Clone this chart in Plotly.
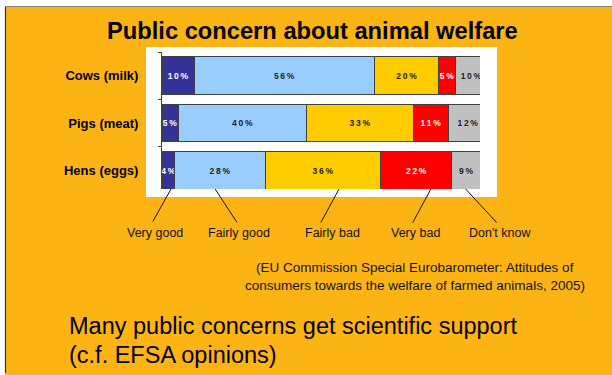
import plotly.graph_objects as go

# ---- data ----
categories = ["Cows (milk)", "Pigs (meat)", "Hens (eggs)"]
series_names = ["Very good", "Fairly good", "Fairly bad", "Very bad", "Don't know"]
very_good = [10, 5, 4]
fairly_good = [56, 40, 28]
fairly_bad = [20, 33, 36]
very_bad = [5, 11, 22]
dont_know = [10, 12, 9]
series_values = [very_good, fairly_good, fairly_bad, very_bad, dont_know]
# where each leader line touches the bottom bar (x in %)
leader_points = [2.8, 16.5, 55.0, 83.5, 94.3]

title_text = "Public concern about animal welfare"
source_lines = ["(EU Commission Special Eurobarometer: Attitudes of",
                "consumers towards the welfare of farmed animals, 2005)"]
main_lines = ["Many public concerns get scientific support", "(c.f. EFSA opinions)"]

# ---- styling ----
W, H = 612, 375
L, R, T, B = 162, 132, 52, 186
PW, PH = W - L - R, H - T - B
FONT = "Liberation Sans, Arial, sans-serif"
colors = ["#333399", "#99CCFF", "#FFCC00", "#FF0000", "#C0C0C0"]
txtcolors = ["white", "#222222", "#222222", "white", "#222222"]
ORANGE = "#FCB414"


def xp(px):
    return (px - L) / PW


def yp(py):
    return (H - B - py) / PH


def spaced(v):
    return "\u2009".join(f"{v}%")


fig = go.Figure()
for name, vals, c, tc in zip(series_names, series_values, colors, txtcolors):
    fig.add_trace(go.Bar(
        y=categories, x=vals, name=name, orientation="h",
        marker=dict(color=c, line=dict(color="#404040", width=1)),
        text=[spaced(v) for v in vals], textposition="inside",
        insidetextanchor="middle", textangle=0, constraintext="none",
        textfont=dict(family=FONT, size=8.5, color=tc, weight="bold"),
        hoverinfo="skip",
    ))

shapes = [
    # white strips outside the slide (top and left)
    dict(type="rect", xref="paper", yref="paper", x0=xp(-2), x1=xp(W + 2), y0=yp(6.5), y1=yp(-2),
         fillcolor="white", line=dict(width=0), layer="below"),
    dict(type="rect", xref="paper", yref="paper", x0=xp(-2), x1=xp(5), y0=yp(H + 2), y1=yp(-2),
         fillcolor="white", line=dict(width=0), layer="below"),
    # top grey rule
    dict(type="line", xref="paper", yref="paper", x0=xp(5), x1=xp(W + 2), y0=yp(6.5), y1=yp(6.5),
         line=dict(color="#808080", width=1.2), layer="below"),
    # left border
    dict(type="line", xref="paper", yref="paper", x0=xp(5.5), x1=xp(5.5), y0=yp(373), y1=yp(7),
         line=dict(color="#333333", width=1.2), layer="below"),
    # white chart box
    dict(type="rect", xref="paper", yref="paper", x0=xp(146), x1=xp(497), y0=yp(197), y1=yp(47),
         fillcolor="white", line=dict(width=0), layer="below"),
]

annotations = [
    dict(text=f"<b>{title_text}</b>", xref="paper", yref="paper", x=xp(312), y=yp(31),
         showarrow=False, font=dict(family=FONT, size=23.7, color="#000000"),
         xanchor="center", yanchor="middle"),
]

label_centers = [155, 239, 332, 415.5, 499.5]
label_tails = [(152, 223), (238, 224), (320, 224), (412, 224), (498, 224)]
for name, lx, pt, tail in zip(series_names, label_centers, leader_points, label_tails):
    annotations.append(dict(text=name, xref="paper", yref="paper", x=xp(lx), y=yp(233),
                            showarrow=False, font=dict(family=FONT, size=12.5, color="#111111"),
                            xanchor="center", yanchor="middle"))
    head_px = L + pt / 100 * (PW / 0.9876)
    annotations.append(dict(text="", xref="x", yref="paper", x=pt, y=0,
                            showarrow=True, arrowhead=0, arrowwidth=1, arrowcolor="#111111",
                            ax=tail[0] - head_px, ay=tail[1] - (H - B), standoff=0, startstandoff=0,
                            font=dict(size=1)))

for i, line in enumerate(source_lines):
    annotations.append(dict(text=line, xref="paper", yref="paper", x=xp(415), y=yp(267 + 18 * i),
                            showarrow=False, font=dict(family=FONT, size=13.5, color="#111111"),
                            xanchor="center", yanchor="middle"))

for i, line in enumerate(main_lines):
    annotations.append(dict(text=line, xref="paper", yref="paper", x=xp(67), y=yp(326 + 29 * i),
                            showarrow=False, font=dict(family=FONT, size=23.5, color="#000000"),
                            xanchor="left", yanchor="middle"))

fig.update_layout(
    width=W, height=H, margin=dict(l=L, r=R, t=T, b=B, pad=0),
    paper_bgcolor=ORANGE, plot_bgcolor="white",
    barmode="stack", bargap=0.21, showlegend=False,
    shapes=shapes, annotations=annotations,
    xaxis=dict(range=[0, 98.76], visible=False, fixedrange=True),
    yaxis=dict(range=[2.39, -0.5], type="category", categoryarray=categories,
               showline=True, linecolor="#404040", linewidth=1,
               ticks="outside", ticklen=3, tickcolor="#404040", tickson="boundaries",
               showgrid=False, ticklabelstandoff=20, fixedrange=True,
               tickfont=dict(family=FONT, size=13, color="#000000", weight="bold")),
)

post = ("var s=document.createElement('style');"
        "s.innerHTML='html,body{margin:0;padding:0;overflow:hidden;scrollbar-width:none;"
        "width:612px;height:375px;}"
        "::-webkit-scrollbar{display:none;width:0;height:0;}';"
        "document.head.appendChild(s);"
        "document.documentElement.style.scrollbarWidth='none';"
        "var g=document.getElementsByClassName('plotly-graph-div')[0];"
        "g.style.overflow='hidden';g.style.display='block';")

fig.write_html("out.html", config={"displayModeBar": False, "staticPlot": True},
               post_script=post)
